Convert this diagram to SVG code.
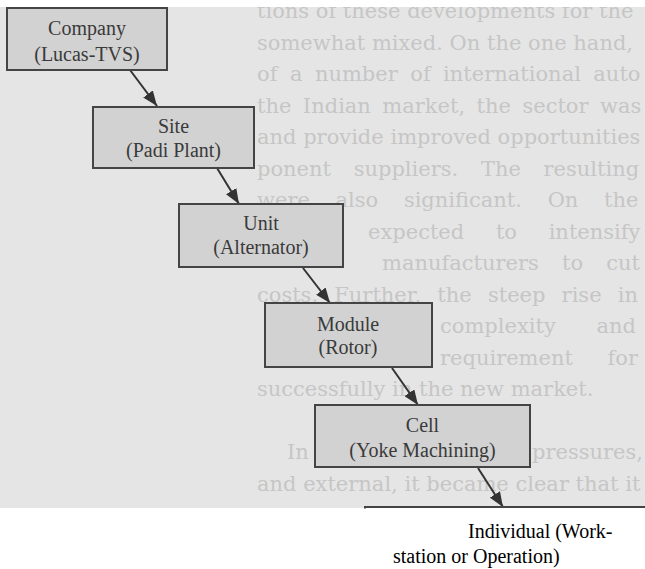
<svg xmlns="http://www.w3.org/2000/svg" width="645" height="569" viewBox="0 0 645 569">
<style>
.page{fill:#e5e5e5}
.bg{font-family:"DejaVu Serif",serif;font-size:21px;fill:#c6c6c6}
.node rect{fill:#d2d2d2;stroke:#444;stroke-width:2}
.node text{font-family:"Liberation Serif","Times New Roman",serif;font-size:20px;fill:#3a3a3a;text-anchor:middle}
.edge{stroke:#333;stroke-width:2;fill:none;marker-end:url(#arr)}
.caption{font-family:"Liberation Serif","Times New Roman",serif;font-size:20px;fill:#000}
</style>
<defs>
<marker id="arr" markerWidth="15" markerHeight="12" refX="15" refY="6" orient="auto" markerUnits="userSpaceOnUse">
<path d="M0,0 L15,6 L0,12 z" fill="#333"/>
</marker>
</defs>
<rect x="0" y="0" width="645" height="569" fill="#fff"/>
<rect class="page" x="0" y="7" width="645" height="501"/>
<g id="page-text">
<text class="bg" x="257" y="18">tions of these developments for the</text>
<text class="bg" x="257" y="49.5">somewhat mixed. On the one hand,</text>
<text class="bg" x="257" y="81" word-spacing="5.8">of a number of international auto</text>
<text class="bg" x="257" y="112.5" word-spacing="4.8">the Indian market, the sector was</text>
<text class="bg" x="257" y="144">and provide improved opportunities</text>
<text class="bg" x="257" y="175.5" word-spacing="16">ponent suppliers. The resulting</text>
<text class="bg" x="257" y="207" word-spacing="19">were also significant. On the</text>
<text class="bg" x="368" y="238.5" word-spacing="25">expected to intensify</text>
<text class="bg" x="382" y="270" word-spacing="16.5">manufacturers to cut</text>
<text class="bg" x="257" y="301.5" word-spacing="9.5">costs. Further, the steep rise in</text>
<text class="bg" x="440" y="333" word-spacing="34">complexity and</text>
<text class="bg" x="440" y="364.5" word-spacing="28">requirement for</text>
<text class="bg" x="257" y="396">successfully in the new market.</text>
<text class="bg" x="287" y="459">In</text>
<text class="bg" x="532" y="459">pressures,</text>
<text class="bg" x="257" y="490.5">and external, it became clear that it</text>
</g>
<rect x="0" y="0" width="645" height="7" fill="#fff"/>
<g id="connectors">
<line class="edge" x1="130" y1="70" x2="157" y2="106"/>
<line class="edge" x1="217" y1="168" x2="239" y2="204"/>
<line class="edge" x1="303" y1="268" x2="330" y2="303"/>
<line class="edge" x1="392" y1="368" x2="418" y2="405"/>
<line class="edge" x1="478" y1="468" x2="503" y2="507"/>
</g>
<g id="company" class="node">
<rect x="7" y="8" width="160" height="62"/>
<text x="87" y="35">Company</text>
<text x="87" y="61">(Lucas-TVS)</text>
</g>
<g id="site" class="node">
<rect x="93" y="107" width="161" height="61"/>
<text x="173.5" y="133">Site</text>
<text x="173.5" y="157">(Padi Plant)</text>
</g>
<g id="unit" class="node">
<rect x="179" y="204" width="164" height="63"/>
<text x="261" y="230">Unit</text>
<text x="261" y="254">(Alternator)</text>
</g>
<g id="module" class="node">
<rect x="265" y="303" width="167" height="64"/>
<text x="348" y="331">Module</text>
<text x="348" y="354">(Rotor)</text>
</g>
<g id="cell" class="node">
<rect x="315" y="405" width="215" height="62"/>
<text x="422.5" y="432">Cell</text>
<text x="422.5" y="457">(Yoke Machining)</text>
</g>
<g id="individual">
<path d="M365,508.5 L365,507 L645,507" fill="none" stroke="#444" stroke-width="2"/>
<text class="caption" x="468" y="538">Individual (Work-</text>
<text class="caption" x="393" y="563">station or Operation)</text>
</g>
</svg>
